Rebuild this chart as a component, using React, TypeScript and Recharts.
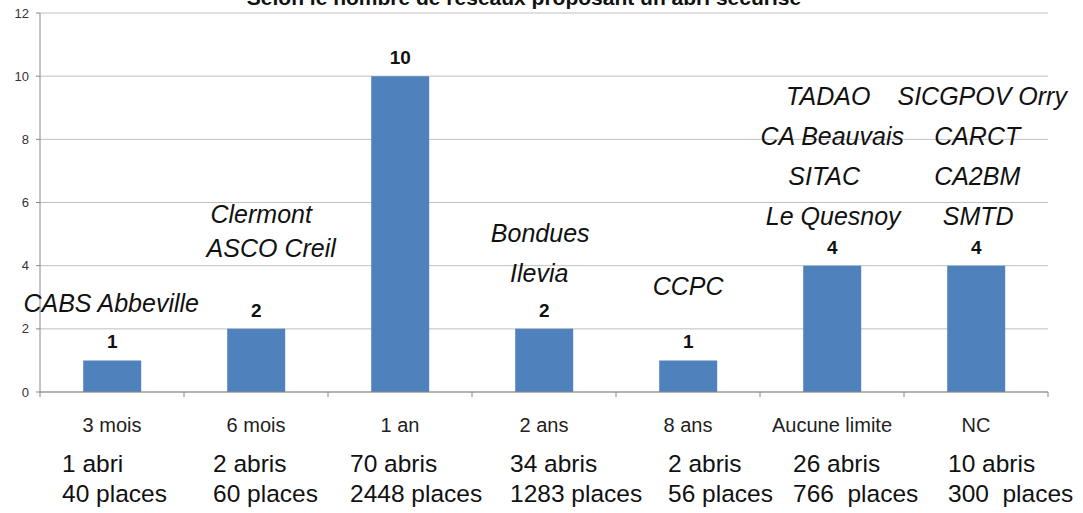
import { BarChart, Bar, XAxis, YAxis, CartesianGrid, LabelList } from 'recharts';

const categories = ['3 mois', '6 mois', '1 an', '2 ans', '8 ans', 'Aucune limite', 'NC'];
const reseaux = [1, 2, 10, 2, 1, 4, 4];
const abris = ['1 abri', '2 abris', '70 abris', '34 abris', '2 abris', '26 abris', '10 abris'];
const places = ['40 places', '60 places', '2448 places', '1283 places', '56 places', '766  places', '300  places'];
const networks = [
    ['CABS Abbeville'],
    ['Clermont', 'ASCO Creil'],
    [],
    ['Bondues', 'Ilevia'],
    ['CCPC'],
    ['TADAO', 'CA Beauvais', 'SITAC', 'Le Quesnoy'],
    ['SICGPOV Orry', 'CARCT', 'CA2BM', 'SMTD'],
];
const yTicks = [0, 2, 4, 6, 8, 10, 12];

// placement of the free text (layout only)
const infoDx = [-50, -43, -50, -34, -20, -39, -28];
const nameGap = [48, 72, 0, 47, 65, 41, 41];
const nameStep = [0, 34, 0, 40, 0, 40, 40];
const nameDx = [[-1], [5, 15], [], [-4, -5], [0], [-4, 0, -8, 1], [6, 1, 1, 2]];

const data = categories.map((c, i) => ({ name: c, value: reseaux[i] }));

const FONT = '"Liberation Sans", Arial, sans-serif';
const BAND = (1048 - 40) / categories.length;

const CategoryTick = ({ x, y, payload, index }: any) => {
    const i = payload?.index ?? index;
    return (
        <g style={{ fontFamily: FONT }}>
            <line x1={x - BAND / 2} x2={x - BAND / 2} y1={y - 8} y2={y - 3} stroke="#888" />
            {i === categories.length - 1 && (
                <line x1={x + BAND / 2} x2={x + BAND / 2} y1={y - 8} y2={y - 3} stroke="#888" />
            )}
            <text x={x} y={y + 32} textAnchor="middle" fontSize={20} fill="#222">
                {payload.value}
            </text>
            <text x={x + infoDx[i]} y={y + 72} fontSize={24.5} fill="#111" style={{ whiteSpace: 'pre' }}>
                {abris[i]}
            </text>
            <text x={x + infoDx[i]} y={y + 102} fontSize={24.5} fill="#111" style={{ whiteSpace: 'pre' }}>
                {places[i]}
            </text>
        </g>
    );
};

const BarTopLabel = ({ x, y, width, value, index }: any) => {
    const cx = x + width / 2;
    const names = networks[index] || [];
    const n = names.length;
    return (
        <g style={{ fontFamily: FONT }}>
            <text x={cx} y={y - 12} textAnchor="middle" fontSize={19} fontWeight="bold" fill="#111">
                {value}
            </text>
            {names.map((nm, k) => {
                const fromBottom = n - 1 - k;
                const by = y - nameGap[index] - fromBottom * nameStep[index];
                return (
                    <text
                        key={k}
                        x={cx + nameDx[index][k]}
                        y={by}
                        textAnchor="middle"
                        fontSize={25}
                        fontStyle="italic"
                        fill="#111"
                    >
                        {nm}
                    </text>
                );
            })}
        </g>
    );
};

export default function App() {
    return (
        <div style={{ position: 'absolute', left: 0, top: 0, width: 1083, height: 513, background: '#fff' }}>
            <BarChart
                width={1083}
                height={513}
                data={data}
                margin={{ top: 13, right: 35, left: 0, bottom: 0 }}
                barCategoryGap="30%"
            >
                <text x={524} y={5} textAnchor="middle" fontSize={21} fontWeight="bold" fill="#111" style={{ fontFamily: FONT }}>
                    Selon le nombre de réseaux proposant un abri sécurisé
                </text>
                <CartesianGrid vertical={false} stroke="#c0c0c0" />
                <YAxis
                    width={40}
                    domain={[0, 12]}
                    ticks={yTicks}
                    interval={0}
                    tick={{ fontSize: 13, fill: '#333', fontFamily: FONT }}
                    tickSize={4}
                    tickMargin={7}
                    axisLine={{ stroke: '#888' }}
                    tickLine={{ stroke: '#888' }}
                />
                <XAxis
                    dataKey="name"
                    height={121}
                    interval={0}
                    tickLine={false}
                    axisLine={{ stroke: '#888' }}
                    tick={<CategoryTick />}
                />
                <Bar dataKey="value" fill="#4F81BD" isAnimationActive={false}>
                    <LabelList dataKey="value" content={<BarTopLabel />} />
                </Bar>
            </BarChart>
        </div>
    );
}
